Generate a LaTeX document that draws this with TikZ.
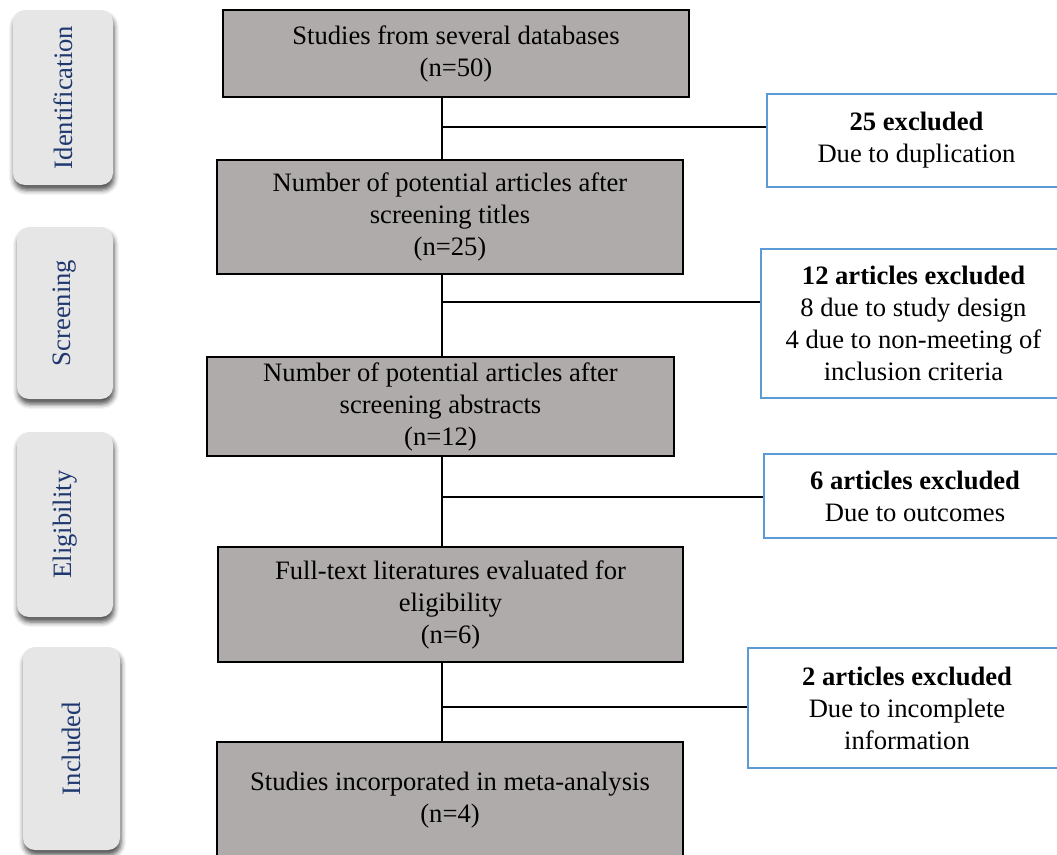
\documentclass[tikz,border=0pt]{standalone}
\usepackage{fontspec}
\setmainfont{Liberation Serif}
\usetikzlibrary{shadows.blur}

\definecolor{stagegray}{RGB}{231,230,230}
\definecolor{stagetext}{RGB}{31,56,110}
\definecolor{boxgray}{RGB}{175,171,170}
\definecolor{exblue}{RGB}{91,155,213}

\begin{document}
\begin{tikzpicture}[x=1pt,y=-1pt,
  every node/.style={font=\fontsize{26.6}{32}\selectfont, inner sep=0pt},
  stage/.style={fill=stagegray, rounded corners=12pt, text=stagetext,
    blur shadow={shadow xshift=1pt, shadow yshift=-5pt, shadow blur radius=5pt, shadow opacity=70}},
  mainbox/.style={draw, line width=2pt, fill=boxgray, align=center},
  exbox/.style={draw=exblue, line width=2pt, fill=white, align=center},
  link/.style={line width=1.8pt}]
\useasboundingbox (0,0) rectangle (1057,854);

% stages
\node[stage, minimum width=100pt, minimum height=175pt] (idf) at (63,97.5) {\rotatebox{90}{Identification}};
\node[stage, minimum width=96pt, minimum height=172pt] (scr) at (65,313) {\rotatebox{90}{Screening}};
\node[stage, minimum width=96pt, minimum height=185pt] (elg) at (65,524.5) {\rotatebox{90}{Eligibility}};
\node[stage, minimum width=97pt, minimum height=203pt] (inc) at (71.5,748.5) {\rotatebox{90}{Included}};

% main flow
\node[mainbox, minimum width=466pt, minimum height=87pt] (s1) at (456,53.5) {Studies from several databases\\(n=50)};
\node[mainbox, minimum width=466pt, minimum height=114pt] (s2) at (450,217) {Number of potential articles after\\screening titles\\(n=25)};
\node[mainbox, minimum width=467pt, minimum height=99pt] (s3) at (440.5,406.5) {Number of potential articles after\\screening abstracts\\(n=12)};
\node[mainbox, minimum width=465pt, minimum height=115pt] (s4) at (450.5,604.5) {Full-text literatures evaluated for\\eligibility\\(n=6)};
\node[mainbox, minimum width=466pt, minimum height=116pt] (s5) at (450,800) {Studies incorporated in meta-analysis\\(n=4)};

% exclusions
\node[exbox, minimum width=299pt, minimum height=93pt] (ex1) at (916.5,140.5) {\textbf{25 excluded}\\Due to duplication};
\node[exbox, minimum width=305pt, minimum height=149pt] (ex2) at (913.5,323.5) {\textbf{12 articles excluded}\\8 due to study design\\4 due to non-meeting of\\inclusion criteria};
\node[exbox, minimum width=302pt, minimum height=84pt] (ex3) at (915,496) {\textbf{6 articles excluded}\\Due to outcomes};
\node[exbox, minimum width=318pt, minimum height=120pt] (ex4) at (907,708) {\textbf{2 articles excluded}\\Due to incomplete\\information};

% junctions on the trunk
\coordinate (j1) at (442,127);
\coordinate (j2) at (442,302);
\coordinate (j3) at (442,497);
\coordinate (j4) at (442,707);

\draw[link] (s1.south -| j1) -- (s2.north -| j1);
\draw[link] (s2.south -| j2) -- (s3.north -| j2);
\draw[link] (s3.south -| j3) -- (s4.north -| j3);
\draw[link] (s4.south -| j4) -- (s5.north -| j4);

\draw[link] (j1) -- (j1 -| ex1.west);
\draw[link] (j2) -- (j2 -| ex2.west);
\draw[link] (j3) -- (j3 -| ex3.west);
\draw[link] (j4) -- (j4 -| ex4.west);
\end{tikzpicture}
\end{document}
